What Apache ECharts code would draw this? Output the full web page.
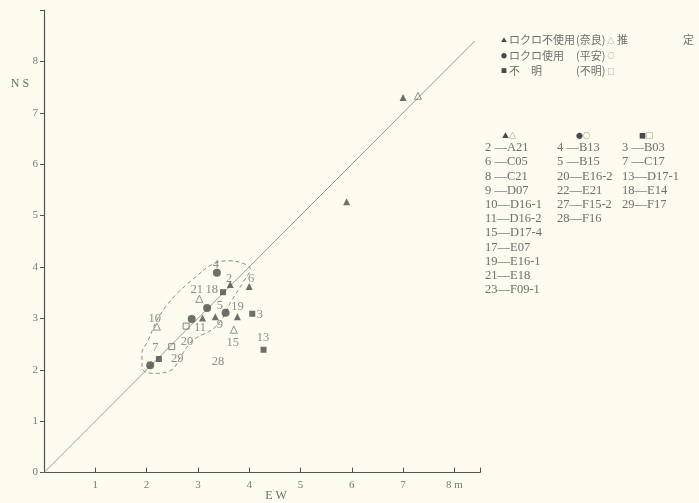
<!DOCTYPE html>
<html><head><meta charset="utf-8">
<script src="https://cdn.jsdelivr.net/npm/echarts@6/dist/echarts.min.js"></script>
<style>html,body{margin:0;padding:0;background:#fdfcef}#c{width:699px;height:503px}</style>
</head><body><div id="c"></div>
<script>
// ---- data (metres) ----
const xTickLabels = ['', '1', '2', '3', '4', '5', '6', '7', '8 m'];
const yTickLabels = ['0', '1', '2', '3', '4', '5', '6', '7', '8'];
// ▲ ロクロ不使用 (奈良)
const naraFilled = [[3.63,3.66],[4.00,3.62],[3.34,3.03],[3.09,3.01],[3.77,3.03],[7.00,7.30],[5.90,5.27]];
// △ 推定
const naraOpen = [[2.20,2.84],[3.70,2.78],[3.03,3.38],[7.29,7.33]];
// ● ロクロ使用 (平安)
const heianFilled = [[3.37,3.89],[3.54,3.11],[3.18,3.20],[2.88,2.99],[2.07,2.09]];
// ■ 不明
const unknownFilled = [[4.06,3.09],[2.24,2.21],[4.28,2.39],[3.49,3.51]];
// □ open (overlapping) marks
const openMarks = [[2.77,2.85],[2.49,2.45]];
// point number labels [x, y, text]
const pointLabels = [
  [3.35,4.05,'4'],[3.61,3.77,'2'],[4.04,3.77,'6'],[2.98,3.56,'21'],[3.27,3.56,'18'],
  [3.43,3.25,'5'],[3.77,3.23,'19'],[4.21,3.07,'3'],[2.16,3.00,'10'],[3.04,2.81,'11'],
  [3.43,2.88,'9'],[3.68,2.53,'15'],[4.27,2.63,'13'],[2.79,2.54,'20'],[2.17,2.43,'7'],
  [2.60,2.22,'29'],[3.39,2.16,'28']
];
// reference line NS = EW
const refLine = [[0,0],[8.4,8.4]];
// dashed outline around the cluster
const clusterOutline = [
  [3.10,3.93],[3.37,4.09],[3.63,4.12],[3.88,4.07],[4.02,3.97],[3.88,3.70],[3.66,3.35],
  [3.37,2.86],[2.90,2.57],[2.71,2.33],[2.46,1.98],[2.12,1.93],[1.91,2.04],[1.91,2.32],
  [2.03,2.57],[2.20,2.96],[2.39,3.25],[2.59,3.48],[2.81,3.68],[3.10,3.93]
];
// legend texts
const legendSymbols = ['▲', '●', '■'];
const legendNames = ['ロクロ不使用', 'ロクロ使用', '不　明'];
const legendPeriods = ['(奈良)', '(平安)', '(不明)'];
const legendOpen = ['△', '○', '□'];
const legendNote = ['推', '定'];
const tableHeaders = ['▲△', '●○', '■□'];
const tableCol1 = ['2 —A21','6 —C05','8 —C21','9 —D07','10—D16-1','11—D16-2','15—D17-4','17—E07','19—E16-1','21—E18','23—F09-1'];
const tableCol2 = ['4 —B13','5 —B15','20—E16-2','22—E21','27—F15-2','28—F16'];
const tableCol3 = ['3 —B03','7 —C17','13—D17-1','18—E14','29—F17'];

// ---- chart ----
const SERIF = '"Liberation Serif","DejaVu Serif",serif';
const CJK = '"Noto Sans CJK JP","Liberation Serif",sans-serif';
const INK = '#4a4a4a';
const TXT = '#6e6e6e';
const chart = echarts.init(document.getElementById('c'), null, {renderer:'canvas'});

function txt(x, y, t, font, fill, align){
  return {type:'text', x:x, y:y, style:{text:t, font:font, fill:fill||TXT, textAlign:align||'left', textVerticalAlign:'middle'}};
}
const graphic = [
  txt(20, 84, 'N S', '12px '+SERIF, TXT, 'center'),
  txt(276, 496, 'E W', '12px '+SERIF, TXT, 'center')
];
const LY0 = 40, LDY = 15.5;
legendNames.forEach((t,i)=>{
  const y = LY0 + i*LDY;
  graphic.push(txt(504, y, legendSymbols[i], '6px '+CJK, INK, 'center'));
  graphic.push(txt(509, y, t, '11px '+CJK, TXT));
  graphic.push(txt(576, y, legendPeriods[i], '11px '+CJK, TXT));
  graphic.push(txt(611, y, legendOpen[i], '7px '+CJK, '#777', 'center'));
});
graphic.push(txt(617, LY0, legendNote[0], '11px '+CJK, TXT));
graphic.push(txt(694, LY0, legendNote[1], '11px '+CJK, TXT, 'right'));
[509,583,646].forEach((x,i)=>graphic.push(txt(x, 135, tableHeaders[i], '7px '+CJK, INK, 'center')));
[[485,tableCol1],[557,tableCol2],[622,tableCol3]].forEach(([x,col])=>col.forEach((t,i)=>
  graphic.push(txt(x, 148+i*14.2, t, '12.5px '+SERIF, TXT))));

const option = {
  backgroundColor:'#fdfcef',
  animation:false,
  grid:{left:44, top:10, width:436, height:462.6, containLabel:false},
  xAxis:{type:'value', min:0, max:8.5, interval:1,
    axisLine:{show:true, lineStyle:{color:'#555', width:1.2}},
    axisTick:{show:true, inside:true, length:5, lineStyle:{color:'#555'}},
    axisLabel:{margin:7, color:'#7a7a7a', fontFamily:SERIF, fontSize:11,
      formatter:v=> (Number.isInteger(v) && v>=0 && v<xTickLabels.length) ? xTickLabels[v] : ''},
    splitLine:{show:false}},
  yAxis:{type:'value', min:0, max:9, interval:1,
    axisLine:{show:true, lineStyle:{color:'#555', width:1.2}},
    axisTick:{show:true, inside:false, length:4, lineStyle:{color:'#555'}},
    axisLabel:{margin:6, color:'#7a7a7a', fontFamily:SERIF, fontSize:11,
      formatter:v=> (Number.isInteger(v) && v<yTickLabels.length) ? yTickLabels[v] : ''},
    splitLine:{show:false}},
  graphic:graphic,
  series:[
    {type:'line', data:refLine, symbol:'none', lineStyle:{color:'#9a9a9a', width:1}, silent:true, z:1},
    {type:'line', data:clusterOutline, symbol:'none', smooth:0.4, lineStyle:{color:'#8a8a8a', width:1, type:[4,3]}, silent:true, z:1},
    {type:'scatter', data:naraFilled, symbol:'triangle', symbolSize:7, itemStyle:{color:INK}, z:3},
    {type:'scatter', data:naraOpen, symbol:'triangle', symbolSize:7, itemStyle:{color:'rgba(0,0,0,0)', borderColor:'#777', borderWidth:1}, z:3},
    {type:'scatter', data:heianFilled, symbol:'circle', symbolSize:8, itemStyle:{color:INK}, z:3},
    {type:'scatter', data:unknownFilled, symbol:'rect', symbolSize:6, itemStyle:{color:INK}, z:3},
    {type:'scatter', data:openMarks, symbol:'rect', symbolSize:6, itemStyle:{color:'rgba(0,0,0,0)', borderColor:'#666', borderWidth:1}, z:3},
    {type:'scatter', data:pointLabels, symbolSize:1, itemStyle:{color:'rgba(0,0,0,0)'}, z:4,
      label:{show:true, position:'inside', formatter:p=>p.value[2], color:'#707070', fontFamily:SERIF, fontSize:12.5}}
  ]
};
chart.setOption(option);
</script></body></html>
